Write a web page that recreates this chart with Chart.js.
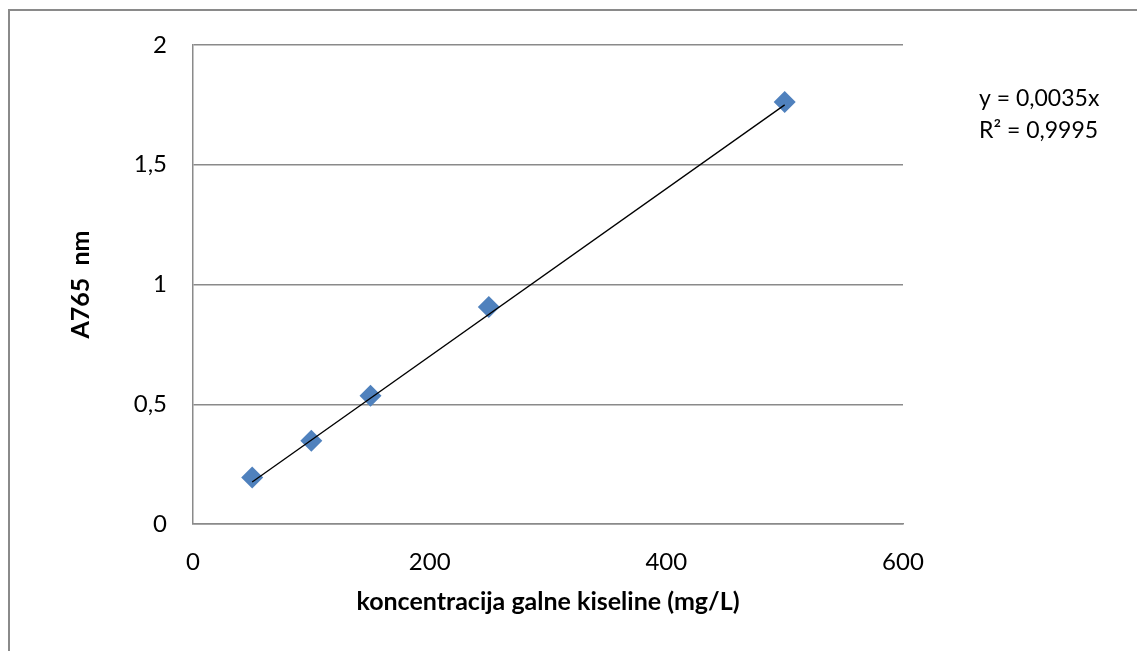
<!DOCTYPE html>
<html>
<head>
<meta charset="utf-8">
<script src="https://cdn.jsdelivr.net/npm/chart.js@4/dist/chart.umd.min.js"></script>
<style>
    html, body { margin: 0; padding: 0; background: #fff; overflow: hidden; }
    #wrap { position: relative; width: 1137px; height: 651px; }
    #frame { position: absolute; left: 8px; top: 9px; width: 1200px; height: 700px; border: 2px solid #8a8a8a; }
    #chart { position: absolute; left: 0; top: 0; }
</style>
</head>
<body>
<div id="wrap">
    <div id="frame"></div>
    <canvas id="chart" width="1137" height="651"></canvas>
</div>
<script>
// mjerenja (koncentracija galne kiseline, apsorbancija)
const concentrations = [50, 100, 150, 250, 500];
const absorbances = [0.194, 0.348, 0.535, 0.906, 1.762];

// linearni trend kroz ishodište
const trendSlope = 0.0035;
const trendRange = [50, 500];
const equationLines = ["y = 0,0035x", "R² = 0,9995"];

const xTicks = [0, 200, 400, 600];
const yTicks = [0, 0.5, 1, 1.5, 2];
const yTickLabels = ["0", "0,5", "1", "1,5", "2"];

const xTitle = "koncentracija galne kiseline (mg/L)";
const yTitle = "A765  nm";

const FONT = "Lato";
const GRID = "#8a8a8a";
const MARKER = "#4F81BD";

const equationPlugin = {
    id: "equation",
    afterDraw(chart) {
        const ctx = chart.ctx;
        ctx.save();
        ctx.font = `23px ${FONT}`;
        ctx.fillStyle = "#000";
        ctx.textBaseline = "middle";
        ctx.textAlign = "left";
        equationLines.forEach((t, i) => ctx.fillText(t, 979, 99 + i * 32));
        ctx.restore();
    }
};

new Chart(document.getElementById("chart"), {
    type: "scatter",
    data: {
        datasets: [{
            label: "mjerenja",
            data: concentrations.map((c, i) => ({x: c, y: absorbances[i]})),
            pointStyle: "rectRot",
            pointRadius: 11,
            backgroundColor: MARKER,
            borderColor: MARKER,
            borderWidth: 0,
            order: 2
        }, {
            label: "trend",
            type: "line",
            data: trendRange.map(x => ({x, y: trendSlope * x})),
            borderColor: "#000",
            borderWidth: 1.3,
            pointRadius: 0,
            fill: false,
            order: 1
        }]
    },
    options: {
        responsive: false,
        animation: false,
        devicePixelRatio: 1,
        layout: {padding: {top: 45, right: 234, left: 0, bottom: 0}},
        plugins: {legend: {display: false}, tooltip: {enabled: false}},
        scales: {
            x: {
                type: "linear",
                min: 0,
                max: 600,
                afterBuildTicks: s => { s.ticks = xTicks.map(v => ({value: v})); },
                afterFit: s => { s.height = 127; },
                grid: {display: false, drawTicks: false},
                border: {display: true, color: GRID, width: 1.5},
                ticks: {padding: 24, color: "#000", font: {family: FONT, size: 24}},
                title: {display: true, text: xTitle, color: "#000", padding: {bottom: 34}, font: {family: FONT, size: 25, weight: "bold"}}
            },
            y: {
                min: 0,
                max: 2,
                afterBuildTicks: s => { s.ticks = yTicks.map(v => ({value: v})); },
                afterFit: s => { s.width = 193; },
                grid: {color: GRID, lineWidth: 1.5, drawTicks: false},
                border: {display: true, color: GRID, width: 1.5},
                ticks: {
                    padding: 26,
                    color: "#000",
                    font: {family: FONT, size: 24},
                    callback: (v) => yTickLabels[yTicks.indexOf(v)]
                },
                title: {display: true, text: yTitle, color: "#000", padding: {top: 66}, font: {family: FONT, size: 25, weight: "bold"}}
            }
        }
    },
    plugins: [equationPlugin]
});
</script>
</body>
</html>
